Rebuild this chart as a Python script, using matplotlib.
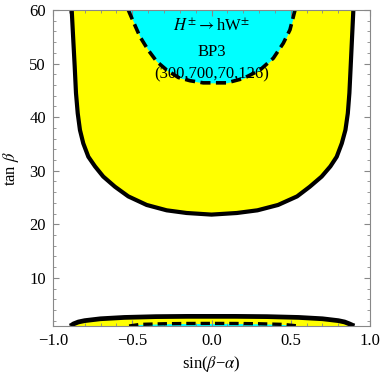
import matplotlib
matplotlib.use("Agg")
import matplotlib.pyplot as plt
from matplotlib.ticker import MultipleLocator

plt.rcParams['font.family'] = ['Liberation Serif', 'DejaVu Serif']
plt.rcParams['mathtext.fontset'] = 'stix'

# upper yellow boundary (solid)
up_x = [-0.882, -0.872, -0.863, -0.855, -0.844, -0.830, -0.809, -0.777, -0.735, -0.683,
        -0.609, -0.525, -0.409, -0.283, -0.157, 0.0,
        0.160, 0.290, 0.420, 0.540, 0.620, 0.695, 0.750, 0.790, 0.822, 0.845,
        0.860, 0.870, 0.878, 0.886, 0.895]
up_t = [60.0, 54.4, 49.4, 44.5, 40.7, 37.6, 35.1, 32.6, 30.8, 28.9,
        27.0, 25.2, 23.6, 22.6, 22.1, 21.8,
        22.1, 22.6, 23.6, 25.2, 27.0, 28.9, 30.8, 32.6, 35.1, 37.6,
        40.7, 44.5, 49.4, 54.4, 60.0]

# upper cyan boundary (dashed)
cy_x = [-0.525, -0.493, -0.451, -0.399, -0.346, -0.283, -0.209, -0.136, -0.052,
        0.096, 0.200, 0.306, 0.390, 0.453, 0.495, 0.527]
cy_t = [60.0, 57.8, 55.0, 52.5, 50.4, 48.8, 47.4, 46.8, 46.4,
        46.4, 47.2, 48.8, 51.0, 53.8, 56.3, 60.0]

# lower yellow boundary (solid)
lo_x = [-0.89, -0.87, -0.84, -0.80, -0.70, -0.55, -0.35, -0.15, 0.0, 0.15, 0.35, 0.55, 0.70, 0.80, 0.84, 0.87, 0.90]
lo_t = [1.0, 1.4, 1.75, 2.0, 2.35, 2.6, 2.75, 2.8, 2.8, 2.8, 2.75, 2.6, 2.35, 2.0, 1.75, 1.4, 1.0]

# lower cyan boundary (dashed)
lc_x = [-0.52, -0.45, -0.3, -0.15, 0.0, 0.15, 0.3, 0.45, 0.55]
lc_t = [1.0, 1.3, 1.42, 1.47, 1.48, 1.47, 1.42, 1.3, 1.0]

fig = plt.figure(figsize=(3.82, 3.82), dpi=100)
ax = fig.add_axes([53/382, 1-326/382, (370-53)/382, (326-10)/382])

ax.fill_between(up_x, up_t, 60, color='#ffff00', lw=0)
ax.fill_between(cy_x, cy_t, 60, color='#00ffff', lw=0)
ax.fill_between(lo_x, 1, lo_t, color='#ffff00', lw=0)
ax.fill_between(lc_x, 1, lc_t, color='#00ffff', lw=0)

ax.plot(up_x, up_t, color='black', lw=3.0, solid_capstyle='butt', solid_joinstyle='round')
ax.plot(lo_x, lo_t, color='black', lw=3.4, solid_capstyle='butt', solid_joinstyle='round')
ax.plot(cy_x, cy_t, color='black', lw=2.6, dashes=(2.8, 1.5))
ax.plot(lc_x, lc_t, color='black', lw=2.4, dashes=(2.8, 1.5))

fs = 12
ax.text(0.0, 57.0, r'$H^{\pm}\rightarrow$hW$^{\pm}$', ha='center', va='center', fontsize=fs)
ax.text(0.0, 52.2, 'BP3', ha='center', va='center', fontsize=fs)
ax.text(0.0, 47.9, '(300,700,70,126)', ha='center', va='center', fontsize=fs)

ax.set_xlim(-1, 1)
ax.set_ylim(1, 60)
ax.set_xticks([-1.0, -0.5, 0.0, 0.5, 1.0])
ax.set_xticklabels(['\u22121.0', '\u22120.5', '0.0', '0.5', '1.0'])
ax.set_yticks([10, 20, 30, 40, 50, 60])
ax.xaxis.set_minor_locator(MultipleLocator(0.1))
ax.yaxis.set_minor_locator(MultipleLocator(2))
ax.tick_params(which='both', direction='in', top=True, right=True, color='#888888', labelsize=fs)
ax.tick_params(which='major', length=4, width=0.8, pad=5)
ax.tick_params(which='minor', length=2.2, width=0.6)
for s in ax.spines.values():
    s.set_color('#888888')
    s.set_linewidth(0.8)

ax.set_xlabel('sin($\\beta$\u2212$\\alpha$)', fontsize=fs, labelpad=4)
ax.set_ylabel('tan $\\beta$', fontsize=fs, labelpad=6)

fig.savefig('out.png', dpi=100)
